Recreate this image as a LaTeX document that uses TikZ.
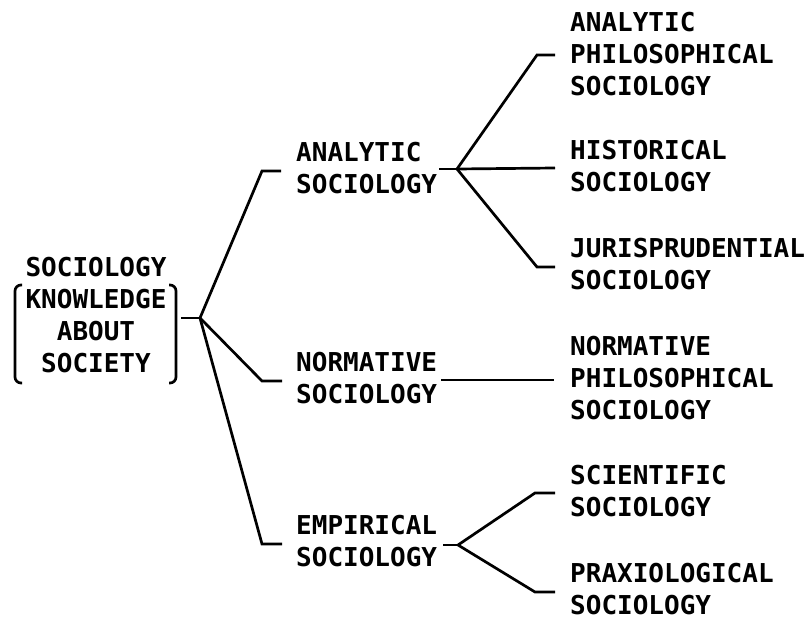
\documentclass[tikz,border=0pt]{standalone}
\usepackage{fontspec}
\setmonofont{DejaVu Sans Mono}
\begin{document}
\begin{tikzpicture}[x=1pt,y=-1pt,
  lbl/.style={font=\ttfamily\bfseries\fontsize{26}{32}\selectfont, inner sep=0pt, align=left, anchor=west},
  conn/.style={line width=2.7pt, line join=miter, line cap=butt},
  brk/.style={line width=2.7pt, rounded corners=6pt}]
\useasboundingbox (0,0) rectangle (810,620);
% text nodes
\node[lbl, align=center, anchor=center] (root) at (96,315) {SOCIOLOGY\\KNOWLEDGE\\ABOUT\\SOCIETY};
\node[lbl] (an) at (296,168) {ANALYTIC\\SOCIOLOGY};
\node[lbl] (no) at (296,378) {NORMATIVE\\SOCIOLOGY};
\node[lbl] (em) at (296,541) {EMPIRICAL\\SOCIOLOGY};
\node[lbl] (aps) at (570,54) {ANALYTIC\\PHILOSOPHICAL\\SOCIOLOGY};
\node[lbl] (his) at (570,166) {HISTORICAL\\SOCIOLOGY};
\node[lbl] (jur) at (570,264) {JURISPRUDENTIAL\\SOCIOLOGY};
\node[lbl] (nps) at (570,378) {NORMATIVE\\PHILOSOPHICAL\\SOCIOLOGY};
\node[lbl] (sci) at (570,491) {SCIENTIFIC\\SOCIOLOGY};
\node[lbl] (pra) at (570,589) {PRAXIOLOGICAL\\SOCIOLOGY};
% brackets
\draw[brk] (22,285) -- (15,285) -- (15,383) -- (22,383);
\draw[brk] (169,285) -- (176,285) -- (176,383) -- (169,383);
% coordinates
\coordinate (r0) at (181,318);
\coordinate (f0) at (200,318);
\coordinate (a1) at (262,171);
\coordinate (a2) at (281,171);
\coordinate (n1) at (262,381);
\coordinate (n2) at (282,381);
\coordinate (e1) at (262,544);
\coordinate (e2) at (282,544);
\coordinate (ao) at (439,169);
\coordinate (af) at (457,169);
\coordinate (ap1) at (537,55);
\coordinate (ap2) at (555,55);
\coordinate (h2) at (555,168);
\coordinate (j1) at (537,267);
\coordinate (j2) at (555,267);
\coordinate (nso) at (441,380);
\coordinate (nsp) at (554,380);
\coordinate (eo) at (443,545);
\coordinate (ef) at (458,545);
\coordinate (s1) at (535,493);
\coordinate (s2) at (555,493);
\coordinate (p1) at (535,592);
\coordinate (p2) at (555,592);
% connectors
\draw[conn] (r0) -- (f0);
\draw[conn] (f0) -- (a1) -- (a2);
\draw[conn] (f0) -- (n1) -- (n2);
\draw[conn] (f0) -- (e1) -- (e2);
\draw[conn] (ao) -- (af);
\draw[conn] (af) -- (ap1) -- (ap2);
\draw[conn] (af) -- (h2);
\draw[conn] (af) -- (j1) -- (j2);
\draw[conn] (nso) -- (nsp);
\draw[conn] (eo) -- (ef);
\draw[conn] (ef) -- (s1) -- (s2);
\draw[conn] (ef) -- (p1) -- (p2);
\end{tikzpicture}
\end{document}
